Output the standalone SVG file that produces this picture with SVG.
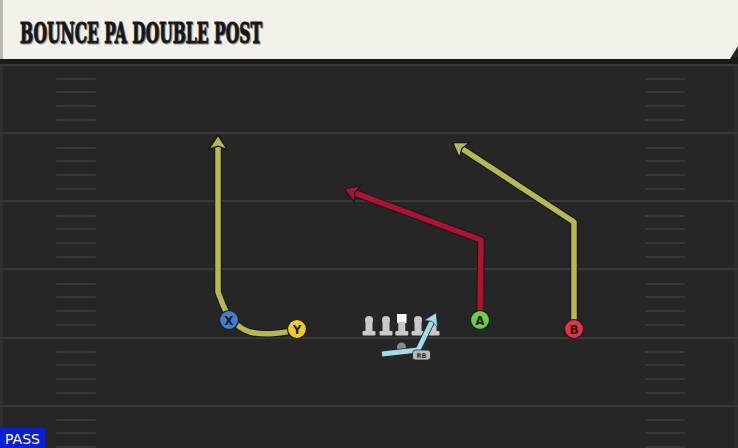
<svg xmlns="http://www.w3.org/2000/svg" width="738" height="448" viewBox="0 0 738 448">
<style>
.yard{stroke:#3a3a3a;stroke-width:2}
.hash{stroke:#383838;stroke-width:2;stroke-linecap:round}
.out{fill:none;stroke:#15162a;stroke-width:7.5;stroke-linejoin:round}
.rt{fill:none;stroke-width:5.5;stroke-linejoin:round}
.yel{stroke:#b9b84c}
.red{stroke:#ae1430}
.blu{stroke:#a6dcea}
.plr{stroke:#1c1c24;stroke-width:1.2}
.lbl{font-family:"DejaVu Sans",sans-serif;font-weight:bold;font-size:12px;fill:#1a1a1a;text-anchor:middle}
.ol{fill:#c9c9c9}
.ttl{font-family:"DejaVu Serif Condensed","DejaVu Serif",serif;font-weight:bold;font-size:28px}
</style>
<defs>
<marker id="ay" markerUnits="userSpaceOnUse" markerWidth="24" markerHeight="24" viewBox="-16 -10 20 20" refX="-4" refY="0" orient="auto">
<path d="M1.5,0 L-10,-7.5 L-7.5,0 L-10,7.5 Z" fill="#b9b84c" stroke="#15162a" stroke-width="1"/>
</marker>
<marker id="ar" markerUnits="userSpaceOnUse" markerWidth="24" markerHeight="24" viewBox="-16 -10 20 20" refX="-4" refY="0" orient="auto">
<path d="M1.5,0 L-10,-7.5 L-7.5,0 L-10,7.5 Z" fill="#ae1430" stroke="#15162a" stroke-width="1"/>
</marker>
<marker id="ab" markerUnits="userSpaceOnUse" markerWidth="24" markerHeight="24" viewBox="-16 -10 20 20" refX="-4" refY="0" orient="auto">
<path d="M1.5,0 L-9,-6.5 L-6.5,0 L-9,6.5 Z" fill="#a6dcea" stroke="#1b2a30" stroke-width="0.6"/>
</marker>
<g id="lm">
<circle cx="0" cy="-9" r="4" class="ol"/>
<rect x="-3.5" y="-7" width="7" height="10" class="ol"/>
<rect x="-6.5" y="2" width="13" height="4.5" rx="1" class="ol"/>
</g>
</defs>
<rect width="738" height="448" fill="#262626"/>
<rect x="0" y="0" width="3" height="448" fill="#2e2e2e"/>
<rect x="734" y="60" width="4" height="388" fill="#2d2d2d"/>
<g id="field">
<line class="yard" x1="0" y1="65" x2="738" y2="65"/>
<line class="yard" x1="0" y1="133" x2="738" y2="133"/>
<line class="yard" x1="0" y1="201" x2="738" y2="201"/>
<line class="yard" x1="0" y1="269" x2="738" y2="269"/>
<line class="yard" x1="0" y1="338" x2="738" y2="338"/>
<line class="yard" x1="0" y1="406" x2="738" y2="406"/>
<g id="hashL">
<line class="hash" x1="57" y1="79" x2="95" y2="79"/><line class="hash" x1="57" y1="92" x2="95" y2="92"/><line class="hash" x1="57" y1="106" x2="95" y2="106"/><line class="hash" x1="57" y1="120" x2="95" y2="120"/>
<line class="hash" x1="57" y1="148" x2="95" y2="148"/><line class="hash" x1="57" y1="161" x2="95" y2="161"/><line class="hash" x1="57" y1="175" x2="95" y2="175"/><line class="hash" x1="57" y1="189" x2="95" y2="189"/>
<line class="hash" x1="57" y1="216" x2="95" y2="216"/><line class="hash" x1="57" y1="229" x2="95" y2="229"/><line class="hash" x1="57" y1="243" x2="95" y2="243"/><line class="hash" x1="57" y1="257" x2="95" y2="257"/>
<line class="hash" x1="57" y1="284" x2="95" y2="284"/><line class="hash" x1="57" y1="297" x2="95" y2="297"/><line class="hash" x1="57" y1="311" x2="95" y2="311"/><line class="hash" x1="57" y1="325" x2="95" y2="325"/>
<line class="hash" x1="57" y1="352" x2="95" y2="352"/><line class="hash" x1="57" y1="365" x2="95" y2="365"/><line class="hash" x1="57" y1="379" x2="95" y2="379"/><line class="hash" x1="57" y1="393" x2="95" y2="393"/>
<line class="hash" x1="57" y1="420" x2="95" y2="420"/><line class="hash" x1="57" y1="433" x2="95" y2="433"/><line class="hash" x1="57" y1="447" x2="95" y2="447"/>
</g>
<use href="#hashL" x="589"/>
</g>
<g id="header">
<rect x="0" y="57" width="738" height="7" fill="#1b1b1b"/>
<path d="M0,0 H738 V46 L730,59 H0 Z" fill="#f3f1ea"/>
<rect x="0" y="0" width="3" height="59" fill="#b8b6b0"/>
<text class="ttl" x="21" y="43.5" textLength="242" lengthAdjust="spacingAndGlyphs" fill="#9a9a9a" stroke="#9a9a9a" stroke-width="1">BOUNCE PA DOUBLE POST</text>
<text class="ttl" x="20" y="42.5" textLength="242" lengthAdjust="spacingAndGlyphs" fill="#161616" stroke="#161616" stroke-width="1">BOUNCE PA DOUBLE POST</text>
</g>
<g id="connectors">
<path class="out" d="M297,329 C285,334 262,335 250,332 C238,328 229,319 223,305 L218,292 L218,142"/>
<path class="rt yel" d="M297,329 C285,334 262,335 250,332 C238,328 229,319 223,305 L218,292 L218,142" marker-end="url(#ay)"/>
<path class="out" d="M480,320 L481,240 L350.7,191.4"/>
<path class="rt red" d="M480,320 L481,240 L350.7,191.4" marker-end="url(#ar)"/>
<path class="out" d="M574,329 L574,222 L458.3,146.2"/>
<path class="rt yel" d="M574,329 L574,222 L458.3,146.2" marker-end="url(#ay)"/>
</g>
<g id="oline">
<use href="#lm" x="369" y="329"/>
<use href="#lm" x="386" y="329"/>
<g id="center"><rect x="397" y="314" width="9.5" height="9" fill="#ffffff"/><rect x="398.3" y="322" width="7" height="9.5" class="ol"/><rect x="395.3" y="331" width="13" height="4.5" rx="1" class="ol"/></g>
<use href="#lm" x="418" y="329"/>
<use href="#lm" x="433" y="329"/>
</g>
<g id="qb"><circle cx="401.5" cy="347" r="4.5" fill="#8c8c8c"/></g>
<g id="rb">
<path class="out" d="M382,354 L418,350 L433.3,318.6" style="stroke-width:6.5;stroke:#1b2a30"/>
<path class="rt blu" d="M382,354 L418,350 L433.3,318.6" style="stroke-width:4.8" marker-end="url(#ab)"/>
<rect x="412.5" y="350" width="18" height="10" rx="3" fill="#b9b9b9" stroke="#222" stroke-width="0.8"/>
<text x="421.5" y="358" font-family="'DejaVu Sans',sans-serif" font-weight="bold" font-size="6.5" fill="#333" text-anchor="middle">RB</text>
</g>
<g id="X"><circle class="plr" cx="229" cy="320" r="9.5" fill="#3f7fd6"/><text class="lbl" x="229" y="324.5">X</text></g>
<g id="Y"><circle class="plr" cx="297" cy="329" r="9.5" fill="#f4cb21"/><text class="lbl" x="297" y="333.5">Y</text></g>
<g id="A"><circle class="plr" cx="480" cy="320" r="9.5" fill="#6dd13b"/><text class="lbl" x="480" y="324.5">A</text></g>
<g id="B"><circle class="plr" cx="574" cy="329" r="9.5" fill="#e8333f"/><text class="lbl" x="574" y="333.5">B</text></g>
<g id="pass">
<rect x="0" y="428" width="45" height="20" fill="#0a1fd9"/>
<text x="22.5" y="444" font-family="'DejaVu Sans',sans-serif" font-size="14" fill="#ffffff" text-anchor="middle">PASS</text>
</g>
</svg>
